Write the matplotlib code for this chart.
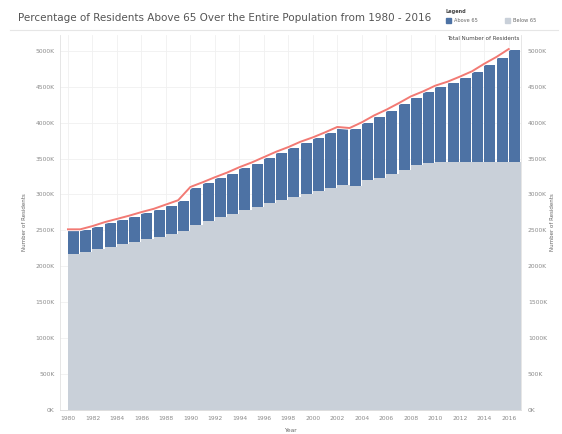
import numpy as np
import matplotlib
matplotlib.use("Agg")
import matplotlib.pyplot as plt
import matplotlib.patheffects as pe
from matplotlib.patches import Rectangle

years = list(range(1980, 2017))

# thousands of residents
below_65 = [2170, 2205, 2240, 2275, 2315, 2345, 2380, 2405, 2445, 2490,
            2575, 2635, 2690, 2725, 2780, 2820, 2875, 2920, 2965, 3005,
            3050, 3090, 3135, 3120, 3200, 3235, 3285, 3340, 3410, 3440,
            3455, 3455, 3455, 3455, 3455, 3455, 3455]
above_65 = [330, 295, 305, 325, 330, 345, 360, 380, 400, 415,
            515, 520, 535, 565, 585, 610, 630, 660, 680, 715,
            730, 760, 790, 790, 790, 850, 880, 915, 940, 980,
            1045, 1100, 1170, 1245, 1350, 1445, 1555]

y_ticks = [0, 500, 1000, 1500, 2000, 2500, 3000, 3500, 4000, 4500, 5000]
y_tick_labels = ["{}K".format(v) for v in y_ticks]
x_ticks = list(range(1980, 2017, 2))

blue = "#4d72a4"
grey = "#c9d0d9"
red = "#f27a74"
txt = "#8a8a8a"

total = np.array(below_65) + np.array(above_65)

fig = plt.figure(figsize=(5.62, 4.34), dpi=100)
ax = fig.add_axes([60 / 562, 1 - 410 / 434, 461 / 562, 375 / 434])

ax.bar(years, below_65, width=1.0, align="edge", color=grey, linewidth=0, zorder=2)
ax.bar(years, above_65, bottom=below_65, width=0.9, align="edge", color=blue,
       linewidth=0, zorder=3)
ax.plot(years, total + 15, color=red, linewidth=1.4, zorder=4,
        path_effects=[pe.Stroke(linewidth=2.6, foreground="white"), pe.Normal()])

ax.set_xlim(1979.35, 2017.0)
ax.set_ylim(0, 5220)
ax.set_yticks(y_ticks)
ax.set_yticklabels(y_tick_labels)
ax.set_xticks(x_ticks)
ax.set_xticklabels([str(x) for x in x_ticks])
ax.tick_params(axis="both", length=0, labelsize=4.3, labelcolor=txt, pad=4)
ax.grid(True, color="#f0f0f0", linewidth=0.6, zorder=0)
ax.set_axisbelow(True)
for s in ["top", "right"]:
    ax.spines[s].set_visible(False)
ax.spines["left"].set_color("#e2e2e2")
ax.spines["bottom"].set_color("#d8d8d8")
ax.spines["left"].set_linewidth(0.6)
ax.spines["bottom"].set_linewidth(0.6)

ax2 = ax.twinx()
ax2.set_ylim(ax.get_ylim())
ax2.set_yticks(y_ticks)
ax2.set_yticklabels(y_tick_labels)
ax2.tick_params(axis="y", length=0, labelsize=4.3, labelcolor=txt, pad=5)
for s in ["top", "left", "bottom"]:
    ax2.spines[s].set_visible(False)
ax2.spines["right"].set_color("#e2e2e2")
ax2.spines["right"].set_linewidth(0.6)

ax.set_ylabel("Number of Residents", fontsize=4, color="#666666", labelpad=6)
ax2.set_ylabel("Number of Residents", fontsize=4, color="#666666", rotation=90,
               labelpad=2)
ax.set_xlabel("Year", fontsize=4.3, color="#666666", labelpad=5)

ax.text(2016.9, total[-1] + 120, "Total Number of Residents", fontsize=4,
        color="#444444", ha="right", va="bottom", zorder=5)

fig.text(18 / 562, 1 - 18 / 434,
         "Percentage of Residents Above 65 Over the Entire Population from 1980 - 2016",
         fontsize=7.5, color="#555555", va="center", ha="left")
fig.add_artist(plt.Line2D([10 / 562, 558 / 562], [1 - 30 / 434, 1 - 30 / 434],
                          color="#e6e6e6", linewidth=0.8))

# legend
fig.text(446 / 562, 1 - 11 / 434, "Legend", fontsize=3.6, color="#444444",
         fontweight="bold", va="center")
fig.add_artist(Rectangle((446 / 562, 1 - 23 / 434), 5 / 562, 5 / 434,
                         color=blue, transform=fig.transFigure))
fig.text(454 / 562, 1 - 20.5 / 434, "Above 65", fontsize=3.6, color="#666666",
         va="center")
fig.add_artist(Rectangle((505 / 562, 1 - 23 / 434), 5 / 562, 5 / 434,
                         color=grey, transform=fig.transFigure))
fig.text(513 / 562, 1 - 20.5 / 434, "Below 65", fontsize=3.6, color="#666666",
         va="center")

fig.savefig("out.png", dpi=100)
